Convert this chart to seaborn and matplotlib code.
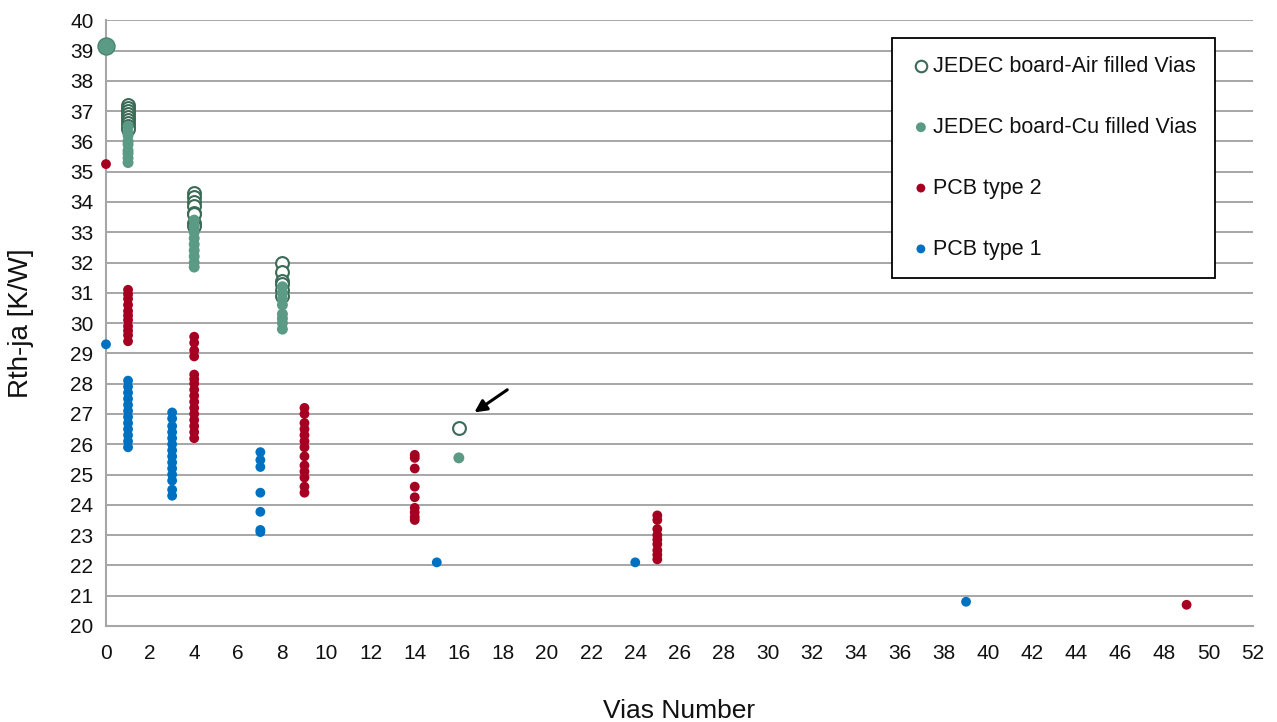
import matplotlib
matplotlib.use('Agg')
import matplotlib.pyplot as plt
import pandas as pd
import seaborn as sns

# series values
air_x = [0] + [1] * 9 + [4] * 8 + [8] * 6 + [16]
air_y = [39.15,
         37.2, 37.1, 37.0, 36.9, 36.8, 36.7, 36.6, 36.5, 36.4,
         34.3, 34.15, 34.0, 33.85, 33.65, 33.6, 33.3, 33.2,
         32.0, 31.7, 31.4, 31.3, 31.1, 30.9,
         26.55]

cu_x = [0] + [1] * 9 + [4] * 9 + [8] * 8 + [16]
cu_y = [39.15,
        36.5, 36.3, 36.2, 36.0, 35.9, 35.7, 35.6, 35.45, 35.3,
        33.4, 33.2, 33.0, 32.8, 32.6, 32.4, 32.2, 32.0, 31.85,
        31.2, 31.0, 30.8, 30.6, 30.3, 30.15, 30.0, 29.8,
        25.55]

pcb2_x = [0] + [1] * 11 + [4] * 16 + [9] * 13 + [14] * 9 + [25] * 9 + [49]
pcb2_y = [35.25,
          31.1, 30.95, 30.8, 30.6, 30.4, 30.25, 30.1, 29.9, 29.75, 29.6, 29.4,
          29.55, 29.35, 29.1, 28.9, 28.3, 28.15, 28.0, 27.8, 27.6, 27.4, 27.2, 27.0, 26.8, 26.6, 26.4, 26.2,
          27.2, 27.0, 26.7, 26.5, 26.3, 26.1, 25.9, 25.6, 25.3, 25.1, 24.9, 24.6, 24.4,
          25.65, 25.55, 25.2, 24.6, 24.25, 23.9, 23.75, 23.6, 23.5,
          23.65, 23.5, 23.2, 23.0, 22.85, 22.7, 22.5, 22.35, 22.2,
          20.7]

pcb1_x = [0] + [1] * 12 + [3] * 14 + [7] * 7 + [15, 24, 39]
pcb1_y = [29.3,
          28.1, 27.9, 27.7, 27.5, 27.3, 27.1, 26.9, 26.7, 26.5, 26.3, 26.1, 25.9,
          27.05, 26.85, 26.6, 26.4, 26.2, 26.0, 25.8, 25.6, 25.4, 25.2, 25.0, 24.8, 24.5, 24.3,
          25.74, 25.48, 25.25, 24.4, 23.77, 23.17, 23.1,
          22.1, 22.1, 20.8]

labels = ['JEDEC board-Air filled Vias', 'JEDEC board-Cu filled Vias', 'PCB type 2', 'PCB type 1']
x_ticks = list(range(0, 53, 2))
y_ticks = list(range(20, 41))

sns.set_style('white')
plt.rcParams['font.family'] = ['Liberation Sans', 'DejaVu Sans']

fig = plt.figure(figsize=(12.77, 7.22), dpi=100)
ax = fig.add_axes([0.083, 0.133, 0.898, 0.839])

grey = '#a6a6a6'
txt = '#111111'
ax.set_axisbelow(True)
ax.yaxis.grid(True, color=grey, lw=1.4)
ax.xaxis.grid(False)

df1 = pd.DataFrame({'x': pcb1_x, 'y': pcb1_y})
df2 = pd.DataFrame({'x': pcb2_x, 'y': pcb2_y})
dfc = pd.DataFrame({'x': cu_x, 'y': cu_y})
dfa = pd.DataFrame({'x': air_x, 'y': air_y})

sns.scatterplot(data=df1, x='x', y='y', ax=ax, color='#0070c0', s=50, edgecolor='none',
                label=labels[3], zorder=3, clip_on=False)
sns.scatterplot(data=df2, x='x', y='y', ax=ax, color='#a50021', s=50, edgecolor='none',
                label=labels[2], zorder=3, clip_on=False)
sns.scatterplot(data=dfa, x='x', y='y', ax=ax, facecolor='white', edgecolor='#3b6a55', s=85,
                linewidth=1.5, label=labels[0], zorder=4, clip_on=False)
sns.scatterplot(data=dfc, x='x', y='y', ax=ax, color='#5b9a84', s=62, edgecolor='none',
                label=labels[1], zorder=5, clip_on=False)
# the point at 0 is drawn larger in the reference
ax.scatter(cu_x[:1], cu_y[:1], s=150, color='#5b9a84', edgecolor='#4a8570', lw=1.0,
           zorder=6, clip_on=False)

ax.annotate('', xy=(16.6, 27.0), xytext=(18.3, 27.85),
            arrowprops=dict(arrowstyle='-|>', color='black', lw=2.2, mutation_scale=18))

ax.set_xlim(0, 52)
ax.set_ylim(20, 40)
ax.set_xticks(x_ticks)
ax.set_yticks(y_ticks)
ax.tick_params(axis='both', labelsize=15, length=0, colors=txt)
ax.tick_params(axis='x', pad=13)
ax.tick_params(axis='y', pad=9)

for side in ['top', 'right']:
    ax.spines[side].set_visible(False)
for side in ['left', 'bottom']:
    ax.spines[side].set_color(grey)
    ax.spines[side].set_linewidth(1.5)

ax.set_xlabel('Vias Number', fontsize=19, labelpad=26, color=txt)
ax.set_ylabel('Rth-ja [K/W]', fontsize=20, labelpad=26, color=txt)

handles, labs = ax.get_legend_handles_labels()
order = [labs.index(l) for l in labels]
leg = ax.legend([handles[i] for i in order], [labs[i] for i in order],
                loc='upper right', bbox_to_anchor=(0.967, 0.971), fontsize=15.5,
                frameon=True, fancybox=False, edgecolor='black', framealpha=1,
                labelspacing=1.85, handletextpad=0.05, handlelength=1.0,
                borderpad=0.85, borderaxespad=0, markerscale=0.9)
leg.get_frame().set_linewidth(1.3)
for t in leg.get_texts():
    t.set_color(txt)

plt.savefig('out.png', dpi=100)
